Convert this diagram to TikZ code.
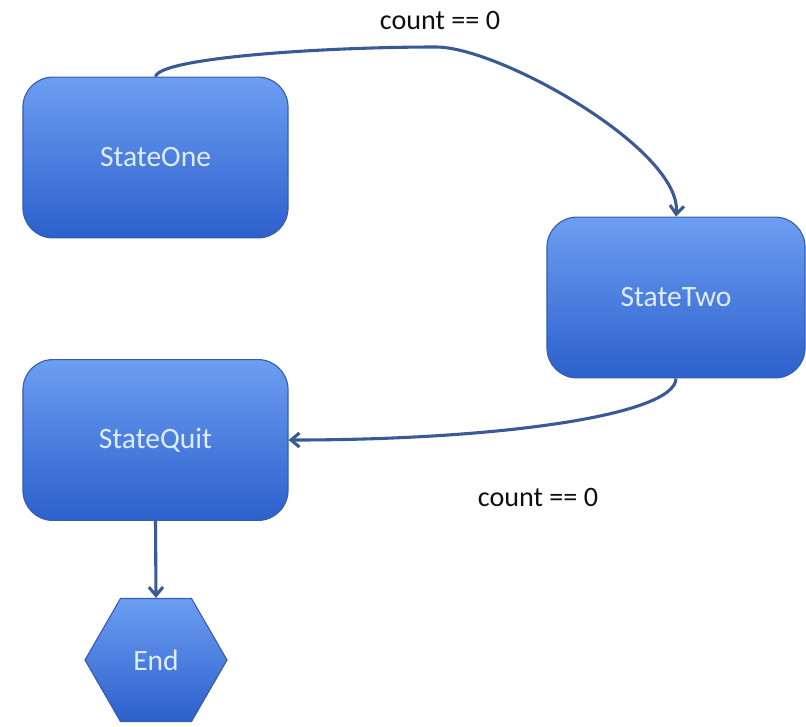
\documentclass[tikz,border=0pt]{standalone}
\usepackage{fontspec}
\setmainfont{Carlito}
\usetikzlibrary{shapes.geometric,arrows.meta}
\definecolor{boxtop}{RGB}{108,158,242}
\definecolor{boxbot}{RGB}{44,96,204}
\definecolor{boxline}{RGB}{58,92,170}
\definecolor{arrowc}{RGB}{58,90,150}
\definecolor{boxtext}{RGB}{222,236,252}
\definecolor{lbltext}{RGB}{15,15,15}
\begin{document}
\begin{tikzpicture}[x=0.025cm,y=-0.025cm,
    state/.style={draw=boxline,line width=0.8pt,rounded corners=0.75cm,top color=boxtop,bottom color=boxbot,minimum width=6.625cm,minimum height=4.02cm,text=boxtext,font=\fontsize{21}{25}\selectfont},
    finish/.style={draw=boxline,line width=0.8pt,regular polygon,regular polygon sides=6,inner sep=0pt,minimum size=3.55cm,top color=boxtop,bottom color=boxbot,text=boxtext,font=\fontsize{21}{25}\selectfont},
    conn/.style={draw=arrowc,line width=2.2pt,-{Straight Barb[length=6pt,width=10pt]}},
    lbl/.style={text=lbltext,font=\fontsize{20}{24}\selectfont}]
      \useasboundingbox (0,0) rectangle (806,726);
      \node[state] (s1) at (155.5,157.5) {StateOne};
      \node[state,minimum width=6.45cm] (s2) at (676,297.5) {StateTwo};
      \node[state] (s3) at (155.5,440) {StateQuit};
      \node[finish] (fin) at (156,660) {End};
      \node[lbl] (c1) at (440,20) {count == 0};
      \node[lbl] (c2) at (538,497) {count == 0};
      \draw[conn] (s1.north) .. controls (160,58) and (320,47) .. (436,47) .. controls (500,47) and (682,150) .. (s2.north);
      \draw[conn] (s2.south) .. controls (675,415) and (500,440) .. (s3.east);
      \draw[conn] (s3.south) -- (fin.north);
    \end{tikzpicture}
\end{document}
